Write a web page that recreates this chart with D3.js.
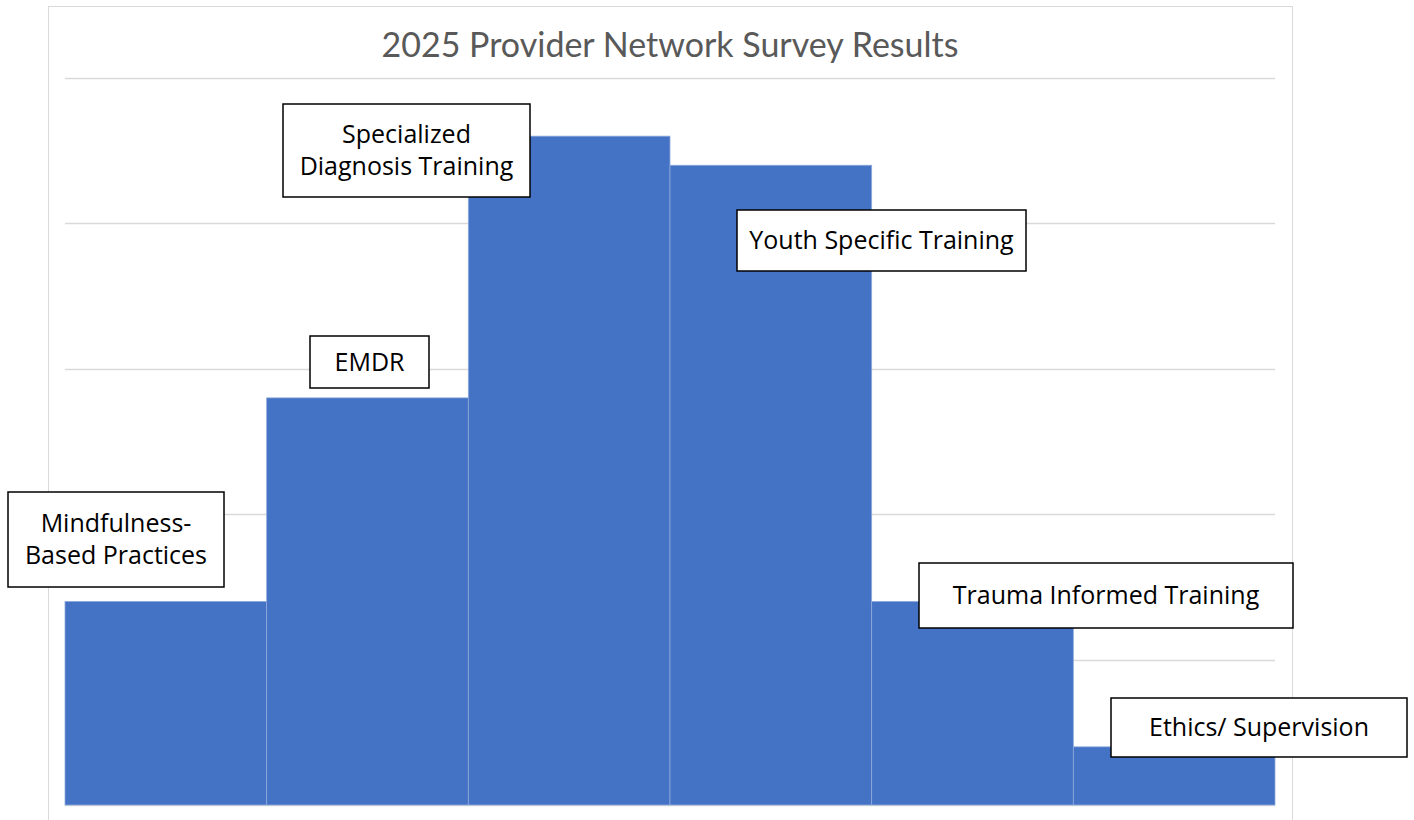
<!DOCTYPE html>
<html>
<head>
<meta charset="utf-8">
<script src="https://cdn.jsdelivr.net/npm/d3@7"></script>
<style>
  html, body { margin: 0; padding: 0; background: #fff; }
  svg { display: block; }
  text { font-family: Lato, "Open Sans", sans-serif; }
</style>
</head>
<body>
<svg id="chart" width="1414" height="820"></svg>
<script>
const title = "2025 Provider Network Survey Results";
const categories = ["Mindfulness-Based Practices", "EMDR", "Specialized Diagnosis Training", "Youth Specific Training", "Trauma Informed Training", "Ethics/ Supervision"];
const values = [7, 14, 23, 22, 7, 2];
const yTicks = [0, 5, 10, 15, 20, 25];
const labelLines = [["Mindfulness-", "Based Practices"], ["EMDR"], ["Specialized", "Diagnosis Training"], ["Youth Specific Training"], ["Trauma Informed Training"], ["Ethics/ Supervision"]];
// annotation box layout (pixels): x, y, w, h
const labelBoxes = [[8, 492, 216, 95], [310, 336, 119, 52], [283, 104, 247, 93], [737, 210, 289, 61], [919, 563, 374, 65], [1111, 698, 296, 59]];

const svg = d3.select("#chart");
const plot = {left: 65, right: 1275, top: 78, bottom: 805};

// outer chart border
svg.append("rect").attr("x", 48.5).attr("y", 6.5).attr("width", 1244).attr("height", 830)
  .attr("fill", "#fff").attr("stroke", "#d9d9d9").attr("stroke-width", 1);

const x = d3.scaleBand().domain(categories).range([plot.left, plot.right]).padding(0);
const y = d3.scaleLinear().domain([0, 25]).range([plot.bottom, plot.top]);

// gridlines
svg.append("g").selectAll("line").data(yTicks).join("line")
  .attr("x1", plot.left).attr("x2", plot.right)
  .attr("y1", d => Math.round(y(d)) + 0.5).attr("y2", d => Math.round(y(d)) + 0.5)
  .attr("stroke", "#d9d9d9").attr("stroke-width", 1.5);

// title
svg.append("text").attr("x", (plot.left + plot.right) / 2).attr("y", 57)
  .attr("text-anchor", "middle").attr("fill", "#595959")
  .style("font-family", "Lato, sans-serif")
  .style("font-size", "34px").text(title);

// bars
svg.append("g").selectAll("rect").data(values).join("rect")
  .attr("x", (d, i) => x(categories[i]))
  .attr("y", d => y(d))
  .attr("width", x.bandwidth())
  .attr("height", d => y(0) - y(d))
  .attr("fill", "#4472C4")
  .attr("stroke", "#8eaadb").attr("stroke-width", 0.8);

// label boxes
const g = svg.append("g").selectAll("g").data(labelBoxes).join("g");
g.append("rect").attr("x", d => d[0]).attr("y", d => d[1]).attr("width", d => d[2]).attr("height", d => d[3])
  .attr("fill", "#fff").attr("stroke", "#000").attr("stroke-width", 1.5);
g.each(function(d, i) {
  const lines = labelLines[i];
  const lh = 32;
  const cx = d[0] + d[2] / 2;
  const cy = d[1] + d[3] / 2;
  const start = cy - (lines.length - 1) * lh / 2;
  d3.select(this).selectAll("text").data(lines).join("text")
    .attr("x", cx).attr("y", (l, j) => start + j * lh)
    .attr("dy", "0.35em")
    .attr("text-anchor", "middle").attr("fill", "#000")
    .style("font-family", "'Open Sans', sans-serif")
    .style("font-size", "25px").text(l => l);
});
</script>
</body>
</html>
